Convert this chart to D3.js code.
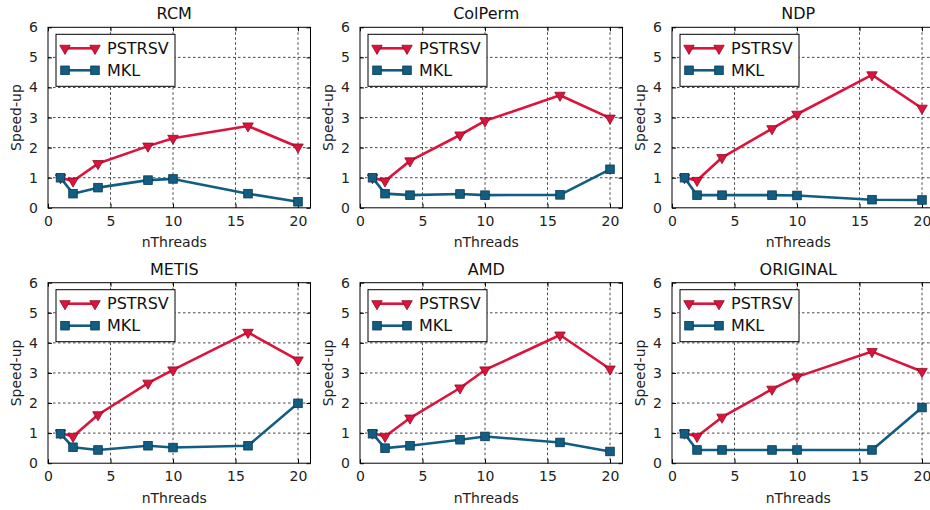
<!DOCTYPE html>
<html>
<head>
<meta charset="utf-8">
<script src="https://cdn.jsdelivr.net/npm/d3@7"></script>
<style>
  body { margin: 0; background: #fff; }
  svg { font-family: 'DejaVu Sans', sans-serif; }
</style>
</head>
<body>
<svg id="chart" width="930" height="510"></svg>
<script>
const threads = [1, 2, 4, 8, 10, 16, 20];
const titles = ['RCM', 'ColPerm', 'NDP', 'METIS', 'AMD', 'ORIGINAL'];
const seriesNames = ['PSTRSV', 'MKL'];

// speed-up per panel, same order as titles
const pstrsvSpeedup = [
  [1.0, 0.89, 1.47, 2.05, 2.31, 2.72, 2.02],
  [1.0, 0.89, 1.56, 2.42, 2.89, 3.74, 2.98],
  [1.0, 0.91, 1.67, 2.63, 3.11, 4.42, 3.31],
  [1.0, 0.89, 1.61, 2.66, 3.10, 4.35, 3.43],
  [1.0, 0.89, 1.50, 2.50, 3.10, 4.26, 3.13],
  [1.0, 0.89, 1.53, 2.46, 2.87, 3.71, 3.05]
];
const mklSpeedup = [
  [1.0, 0.47, 0.67, 0.92, 0.96, 0.47, 0.20],
  [1.0, 0.47, 0.42, 0.46, 0.42, 0.43, 1.28],
  [1.0, 0.42, 0.42, 0.42, 0.41, 0.27, 0.26],
  [0.98, 0.53, 0.44, 0.58, 0.52, 0.58, 1.99],
  [0.98, 0.50, 0.58, 0.78, 0.89, 0.69, 0.39],
  [0.98, 0.44, 0.44, 0.44, 0.44, 0.44, 1.85]
];

const xTicks = [0, 5, 10, 15, 20];
const yTicks = [0, 1, 2, 3, 4, 5, 6];

const RED = '#dc143c', RED_EDGE = '#8a0c26';
const BLUE = '#125e82', BLUE_EDGE = '#083a52';

const PANEL = { w: 262.5, h: 180.5, lefts: [48, 360, 672], tops: [27.3, 282.7] };

const svg = d3.select('#chart');

const x = d3.scaleLinear().domain([0, 21]).range([0, PANEL.w]);
const y = d3.scaleLinear().domain([0, 6]).range([PANEL.h, 0]);

const tri = d3.symbol().type(d3.symbolTriangle).size(48);

function drawMarker(g, kind, cx, cy) {
  if (kind === 0) {
    g.append('path')
      .attr('d', tri())
      .attr('transform', 'translate(' + cx + ',' + cy + ') rotate(180)')
      .attr('fill', RED)
      .attr('stroke', RED_EDGE)
      .attr('stroke-width', 0.8);
  } else {
    g.append('rect')
      .attr('x', cx - 4.3).attr('y', cy - 4.3)
      .attr('width', 8.6).attr('height', 8.6)
      .attr('fill', BLUE)
      .attr('stroke', BLUE_EDGE)
      .attr('stroke-width', 0.8);
  }
}

titles.forEach((title, i) => {
  const g = svg.append('g')
    .attr('transform', 'translate(' + PANEL.lefts[i % 3] + ',' + PANEL.tops[Math.floor(i / 3)] + ')');

  // grid
  g.append('g').selectAll('line')
    .data(xTicks.slice(1))
    .enter().append('line')
    .attr('x1', d => x(d)).attr('x2', d => x(d))
    .attr('y1', 0).attr('y2', PANEL.h)
    .attr('stroke', '#333').attr('stroke-width', 0.9)
    .attr('stroke-dasharray', '2.5,2.5');
  g.append('g').selectAll('line')
    .data(yTicks.slice(1, -1))
    .enter().append('line')
    .attr('x1', 0).attr('x2', PANEL.w)
    .attr('y1', d => y(d)).attr('y2', d => y(d))
    .attr('stroke', '#333').attr('stroke-width', 0.9)
    .attr('stroke-dasharray', '2.5,2.5');

  // axes: ticks inside on all sides
  const axB = d3.axisBottom(x).tickValues(xTicks).tickSize(-4).tickPadding(8).tickSizeOuter(0);
  const axT = d3.axisTop(x).tickValues(xTicks).tickSize(-4).tickFormat('').tickSizeOuter(0);
  const axL = d3.axisLeft(y).tickValues(yTicks).tickSize(-4).tickPadding(10)
    .tickFormat(d3.format('d')).tickSizeOuter(0);
  const axR = d3.axisRight(y).tickValues(yTicks).tickSize(-4).tickFormat('').tickSizeOuter(0);

  g.append('g').attr('class', 'axis').attr('transform', 'translate(0,' + PANEL.h + ')').call(axB);
  g.append('g').attr('class', 'axis').call(axT);
  g.append('g').attr('class', 'axis').call(axL);
  g.append('g').attr('class', 'axis').attr('transform', 'translate(' + PANEL.w + ',0)').call(axR);
  g.selectAll('.axis path.domain').remove();
  g.selectAll('.axis text')
    .attr('font-family', 'DejaVu Sans')
    .attr('font-size', 14)
    .attr('fill', '#222');
  g.selectAll('.axis line').attr('stroke', '#000');

  // lines
  const line = d3.line().x((d, k) => x(threads[k])).y(d => y(d));
  const clipId = 'clip' + i;
  g.append('clipPath').attr('id', clipId)
    .append('rect').attr('width', PANEL.w).attr('height', PANEL.h);

  const plot = g.append('g').attr('clip-path', 'url(#' + clipId + ')');
  [pstrsvSpeedup[i], mklSpeedup[i]].forEach((vals, s) => {
    plot.append('path')
      .datum(vals)
      .attr('d', line)
      .attr('fill', 'none')
      .attr('stroke', s === 0 ? RED : BLUE)
      .attr('stroke-width', 2.6)
      .attr('stroke-linejoin', 'round');
    vals.forEach((v, k) => drawMarker(g, s, x(threads[k]), y(v)));
  });

  // frame
  g.append('rect')
    .attr('width', PANEL.w).attr('height', PANEL.h)
    .attr('fill', 'none').attr('stroke', '#000').attr('stroke-width', 1);

  // title and labels
  g.append('text')
    .attr('x', PANEL.w / 2 - 5).attr('y', -8)
    .attr('text-anchor', 'middle')
    .attr('font-size', 16).attr('fill', '#111')
    .text(title);
  g.append('text')
    .attr('x', PANEL.w / 2 - 5).attr('y', PANEL.h + 39.5)
    .attr('text-anchor', 'middle')
    .attr('font-size', 14).attr('fill', '#222')
    .text('nThreads');
  g.append('text')
    .attr('transform', 'translate(-27,' + (PANEL.h / 2) + ') rotate(-90)')
    .attr('text-anchor', 'middle')
    .attr('font-size', 14).attr('fill', '#222')
    .text('Speed-up');

  // legend
  const lg = g.append('g').attr('transform', 'translate(8,7)');
  lg.append('rect')
    .attr('width', 119).attr('height', 52)
    .attr('fill', '#fff').attr('stroke', '#000').attr('stroke-width', 1);
  seriesNames.forEach((name, s) => {
    const ly = 14 + s * 22;
    lg.append('line')
      .attr('x1', 9).attr('x2', 39).attr('y1', ly).attr('y2', ly)
      .attr('stroke', s === 0 ? RED : BLUE).attr('stroke-width', 2.6);
    drawMarker(lg, s, 9, ly);
    drawMarker(lg, s, 39, ly);
    lg.append('text')
      .attr('x', 51).attr('y', ly).attr('dy', '0.36em')
      .attr('font-size', 16).attr('fill', '#111')
      .text(name);
  });
});
</script>
</body>
</html>
